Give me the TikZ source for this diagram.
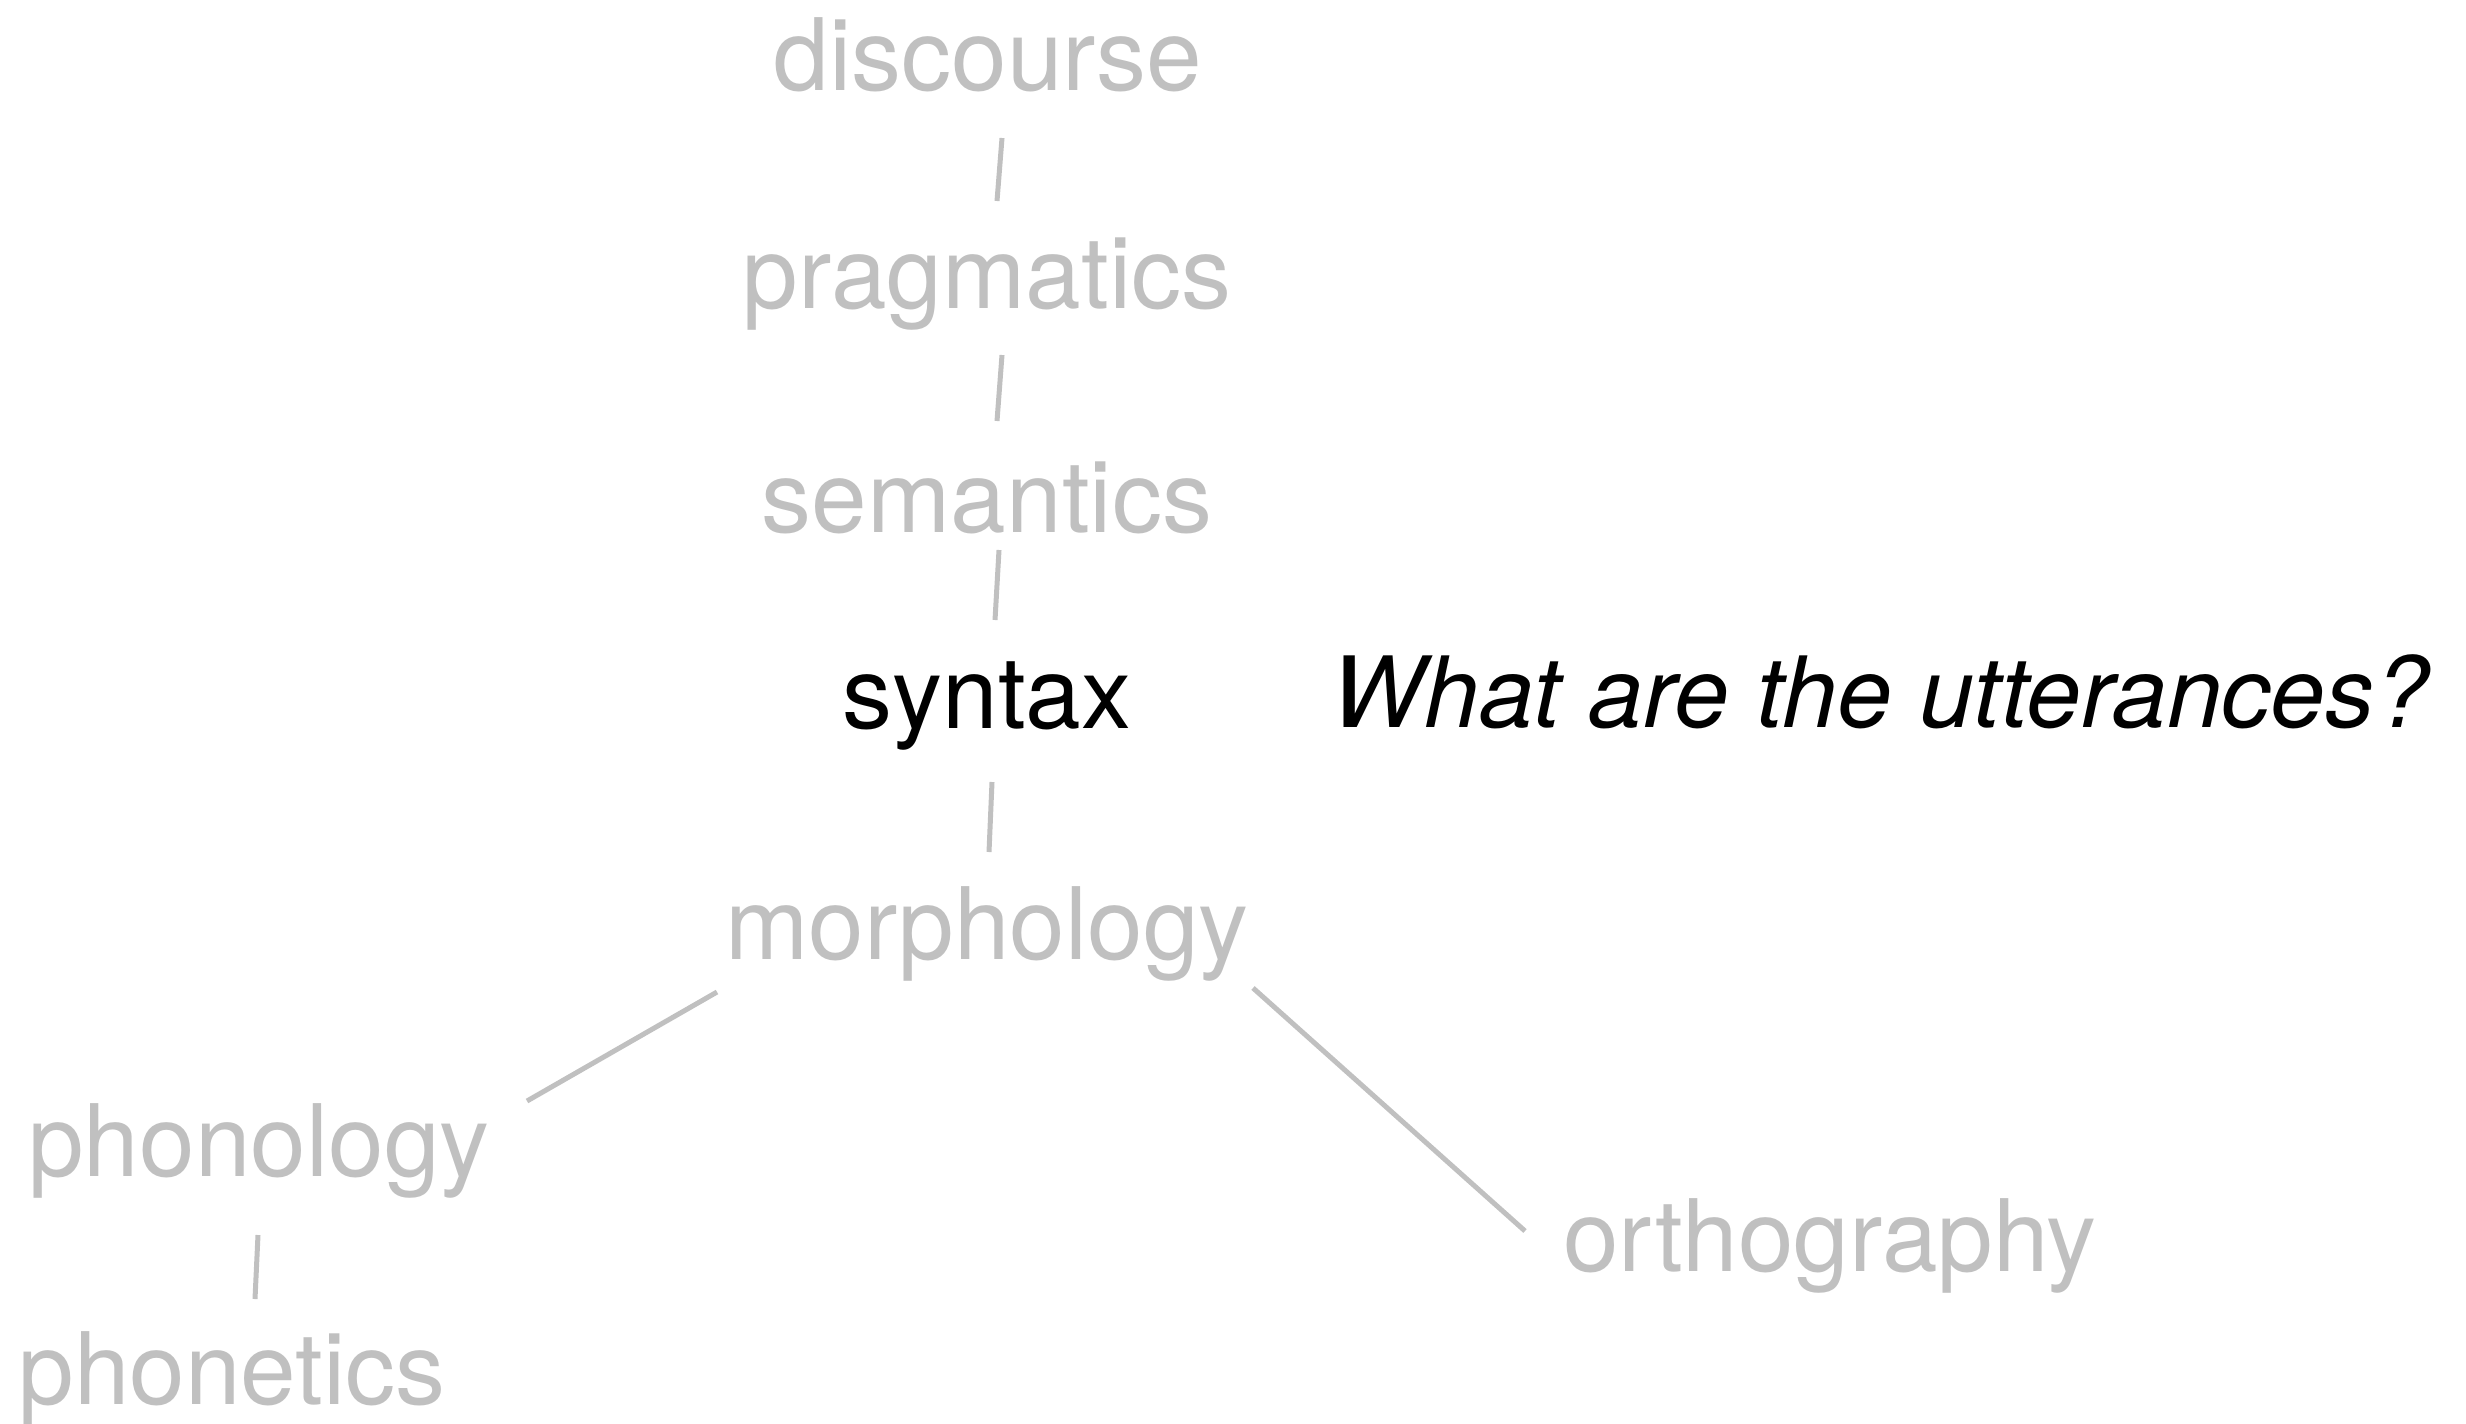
\documentclass[tikz,border=0pt]{standalone}
\usepackage{fontspec}
\setmainfont{TeX Gyre Heros}
\definecolor{lightgr}{RGB}{192,192,192}
\tikzset{
  lbl/.style={anchor=base, inner sep=0pt, text=lightgr, font=\fontsize{30}{36}\selectfont},
  lblon/.style={lbl, text=black},
  conn/.style={draw=lightgr, line width=1.5pt}
}
\begin{document}
\begin{tikzpicture}[x=0.3pt,y=-0.3pt]
\useasboundingbox (0,0) rectangle (2466,1423);
\node[lbl] (disc) at (988,90) {discourse};
\node[lbl] (prag) at (987,308) {pragmatics};
\node[lbl] (sem) at (987,532) {semantics};
\node[lblon] (syn) at (987,728) {syntax};
\node[lbl] (mor) at (987,959) {morphology};
\node[lbl] (phon) at (259,1176) {phonology};
\node[lbl] (phnt) at (232,1404) {phonetics};
\node[lbl] (orth) at (1830,1271) {orthography};
\node[lblon, anchor=base west, font=\fontsize{29.5}{36}\selectfont\itshape] (q) at (1331,727) {What are the utterances?};
\coordinate (a1) at (1002,138); \coordinate (a2) at (997,201);
\coordinate (b1) at (1002,355); \coordinate (b2) at (997,421);
\coordinate (c1) at (999,550); \coordinate (c2) at (995,620);
\coordinate (d1) at (992,782); \coordinate (d2) at (989,852);
\coordinate (e1) at (717,992); \coordinate (e2) at (527,1101);
\coordinate (f1) at (1253,988); \coordinate (f2) at (1525,1231);
\coordinate (g1) at (258,1235); \coordinate (g2) at (255,1299);
\draw[conn] (a1) -- (a2);
\draw[conn] (b1) -- (b2);
\draw[conn] (c1) -- (c2);
\draw[conn] (d1) -- (d2);
\draw[conn] (e1) -- (e2);
\draw[conn] (f1) -- (f2);
\draw[conn] (g1) -- (g2);
\end{tikzpicture}
\end{document}
